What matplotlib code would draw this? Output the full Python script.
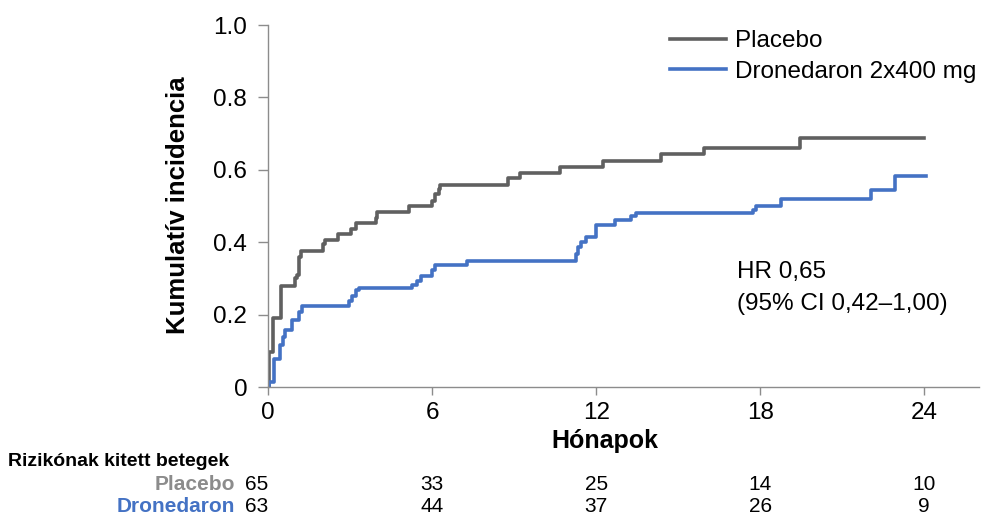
import matplotlib
matplotlib.use("Agg")
from matplotlib import pyplot as plt

plt.rcParams["font.family"] = ["Liberation Sans", "DejaVu Sans"]

# Kaplan-Meier style step data (month of step, cumulative incidence after step)
placebo_t = [0, 0.04, 0.18, 0.48, 0.97, 1.05, 1.13, 1.21, 2.0, 2.1, 2.55, 3.03, 3.21,
             3.94, 4.0, 5.15, 6.0, 6.12, 6.24, 6.3, 8.78, 9.2, 10.67, 12.25, 14.36,
             15.93, 19.44, 24.0]
placebo_y = [0, 0.098, 0.19, 0.28, 0.30, 0.31, 0.36, 0.377, 0.395, 0.407, 0.423, 0.437,
             0.452, 0.467, 0.483, 0.50, 0.515, 0.533, 0.547, 0.559, 0.578, 0.592, 0.608,
             0.624, 0.643, 0.661, 0.689, 0.689]

drone_t = [0, 0.04, 0.22, 0.45, 0.55, 0.61, 0.88, 1.15, 1.25, 2.97, 3.09, 3.21, 3.31,
           5.27, 5.45, 5.58, 6.0, 6.12, 7.27, 11.25, 11.33, 11.46, 11.62, 12.01, 12.68,
           13.29, 13.47, 17.73, 17.86, 18.77, 22.06, 22.91, 24.07]
drone_y = [0, 0.014, 0.078, 0.115, 0.138, 0.158, 0.184, 0.207, 0.225, 0.237, 0.251,
           0.268, 0.274, 0.283, 0.294, 0.306, 0.322, 0.336, 0.349, 0.368, 0.387, 0.40,
           0.413, 0.447, 0.462, 0.471, 0.481, 0.49, 0.499, 0.52, 0.545, 0.582, 0.582]

xticks = [0, 6, 12, 18, 24]
yticks = [0, 0.2, 0.4, 0.6, 0.8, 1.0]
ytick_labels = ["0", "0.2", "0.4", "0.6", "0.8", "1.0"]

at_risk_placebo = [65, 33, 25, 14, 10]
at_risk_drone = [63, 44, 37, 26, 9]

gray = "#606060"
blue = "#4472c4"
axis_gray = "#8c8c8c"

fig = plt.figure(figsize=(9.9, 5.16), dpi=100)
ax = fig.add_axes([268 / 990, 1 - 387 / 516, 711 / 990, 362 / 516])

ax.step(placebo_t, placebo_y, where="post", color=gray, lw=2.6, label="Placebo")
ax.step(drone_t, drone_y, where="post", color=blue, lw=2.6, label="Dronedaron 2x400 mg")

ax.set_xlim(0, 26)
ax.set_ylim(0, 1.0)
ax.set_xticks(xticks)
ax.set_yticks(yticks)
ax.set_yticklabels(ytick_labels)

for s in ["top", "right"]:
    ax.spines[s].set_visible(False)
for s in ["left", "bottom"]:
    ax.spines[s].set_color(axis_gray)
    ax.spines[s].set_linewidth(1.0)

ax.tick_params(axis="y", length=7, width=1, color=axis_gray, labelsize=17.5, pad=8)
ax.tick_params(axis="x", length=6, width=1, color=axis_gray, labelsize=17.5, pad=5)

fig.text(178 / 990, 1 - 205 / 516, "Kumulatív incidencia", rotation=90,
         ha="center", va="center", fontsize=18.5, fontweight="bold")
fig.text(605 / 990, 1 - 441 / 516, "Hónapok", ha="center", va="center",
         fontsize=18, fontweight="bold")

leg = ax.legend(loc="upper left", bbox_to_anchor=(0.565, 0.985), frameon=False,
                fontsize=17.5, handlelength=2.3, handletextpad=0.4,
                labelspacing=0.35, borderpad=0, borderaxespad=0)

ax.text(17.14, 0.317, "HR 0,65", fontsize=17.5, va="center", ha="left")
ax.text(17.14, 0.229, "(95% CI 0,42–1,00)", fontsize=17.5, va="center", ha="left")

# risk table below the axes
fig.text(8 / 990, 1 - 461 / 516, "Rizikónak kitett betegek", ha="left", va="center",
         fontsize=14, fontweight="bold")
fig.text(235 / 990, 1 - 485 / 516, "Placebo", ha="right", va="center",
         fontsize=15, fontweight="bold", color="#8c8c8c")
fig.text(235 / 990, 1 - 506 / 516, "Dronedaron", ha="right", va="center",
         fontsize=15, fontweight="bold", color=blue)

trans = ax.get_xaxis_transform()
for i, m in enumerate(xticks):
    ha = "right" if i == 0 else "center"
    ax.text(m, -(485 - 387) / 362, str(at_risk_placebo[i]), transform=trans,
            ha=ha, va="center", fontsize=15, clip_on=False)
    ax.text(m, -(506 - 387) / 362, str(at_risk_drone[i]), transform=trans,
            ha=ha, va="center", fontsize=15, clip_on=False)

fig.savefig("out.png", dpi=100)
